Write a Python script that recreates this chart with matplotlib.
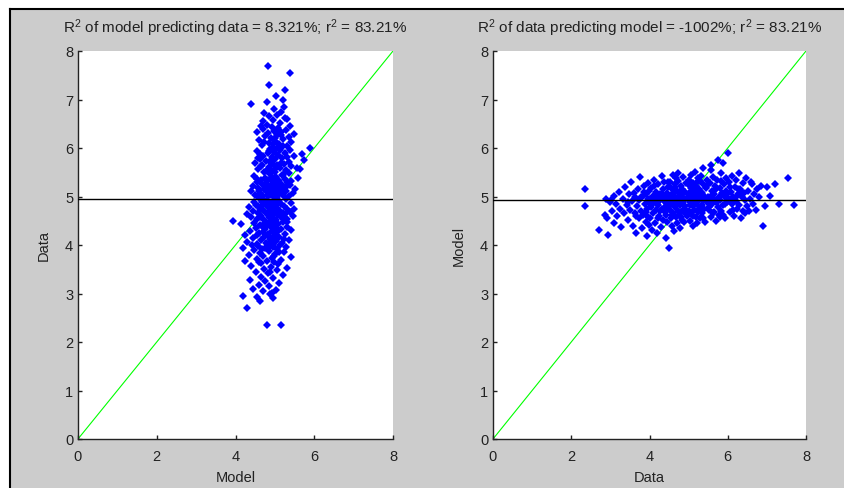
import numpy as np
import matplotlib
matplotlib.use("Agg")
import matplotlib.pyplot as plt
from matplotlib.patches import Rectangle
from matplotlib.lines import Line2D

plt.rcParams['font.family'] = ['Liberation Sans', 'DejaVu Sans']
plt.rcParams['mathtext.fontset'] = 'custom'
plt.rcParams['mathtext.rm'] = 'Liberation Sans'
plt.rcParams['mathtext.it'] = 'Liberation Sans'

# (data, model) pairs
data = [
    2.35, 2.35, 2.70, 2.85, 2.90, 2.95, 2.98, 2.92,
    3.02, 3.05, 3.08, 3.10, 3.15, 3.18, 3.22, 3.25, 3.28, 3.32, 3.35, 3.38, 3.42, 3.45, 3.48,
    3.51, 3.53, 3.55, 3.57, 3.60, 3.62, 3.64, 3.66, 3.68, 3.70, 3.72, 3.74, 3.76, 3.78, 3.80,
    3.82, 3.84, 3.86, 3.88, 3.90, 3.91, 3.93, 3.94, 3.95, 3.96, 3.97, 3.98, 3.99, 3.99, 3.92,
    4.01, 4.02, 4.04, 4.05, 4.07, 4.08, 4.10, 4.11, 4.13, 4.14, 4.16, 4.17, 4.19, 4.20, 4.22,
    4.23, 4.25, 4.26, 4.28, 4.29, 4.31, 4.32, 4.34, 4.35, 4.37, 4.38, 4.40, 4.41, 4.43, 4.44,
    4.45, 4.46, 4.47, 4.48, 4.49, 4.42, 4.36, 4.27, 4.18, 4.09,
    4.50, 4.51, 4.52, 4.53, 4.54, 4.55, 4.56, 4.57, 4.58, 4.59, 4.60, 4.61, 4.62, 4.63, 4.64,
    4.65, 4.66, 4.67, 4.68, 4.69, 4.70, 4.71, 4.72, 4.73, 4.74, 4.75, 4.76, 4.77, 4.78, 4.79,
    4.80, 4.81, 4.82, 4.83, 4.84, 4.85, 4.86, 4.87, 4.88, 4.89, 4.90, 4.92, 4.94, 4.96, 4.98,
    5.00, 5.01, 5.02, 5.03, 5.04, 5.05, 5.06, 5.07, 5.08, 5.09, 5.10, 5.11, 5.12, 5.13, 5.14,
    5.15, 5.16, 5.17, 5.18, 5.19, 5.20, 5.21, 5.22, 5.23, 5.24, 5.25, 5.26, 5.27, 5.28, 5.29,
    5.30, 5.31, 5.32, 5.33, 5.34, 5.35, 5.36, 5.37, 5.38, 5.39, 5.40, 5.42, 5.44, 5.46, 5.48,
    5.50, 5.51, 5.53, 5.54, 5.56, 5.57, 5.59, 5.60, 5.62, 5.63, 5.65, 5.66, 5.68, 5.69, 5.71,
    5.72, 5.74, 5.75, 5.77, 5.78, 5.80, 5.81, 5.83, 5.84, 5.86, 5.87, 5.89, 5.90, 5.92, 5.93,
    5.95, 5.96, 5.98, 5.99, 5.58,
    6.00, 6.02, 6.04, 6.06, 6.08, 6.10, 6.12, 6.14, 6.16, 6.18, 6.20, 6.22, 6.24, 6.26, 6.28,
    6.30, 6.32, 6.34, 6.36, 6.38, 6.40, 6.42, 6.44, 6.46, 6.48,
    6.52, 6.55, 6.58, 6.62, 6.65, 6.68, 6.72, 6.75, 6.80, 6.85, 6.90, 6.95,
    7.00, 7.08, 7.20, 7.30, 7.55, 7.70,
    3.65, 3.85, 4.03, 4.12, 4.21, 4.33, 4.39, 4.47, 4.53, 4.57, 4.63, 4.69, 4.74, 4.81, 4.86,
    4.91, 4.95, 4.99, 5.03, 5.07, 5.11, 5.17, 5.21, 5.26, 5.31, 5.36, 5.41, 5.45, 5.52, 5.58,
    5.64, 5.70, 5.76, 5.82, 5.88, 5.94, 6.05, 6.13, 6.21, 6.33, 6.45, 6.60, 3.45, 3.78, 4.15,
    4.44, 4.66, 4.88, 5.13, 5.34, 5.55, 5.79, 6.09, 6.27,
]
model = [
    5.15, 4.80, 4.30, 4.62, 4.95, 4.20, 4.88, 4.55,
    4.92, 4.70, 5.02, 4.45, 4.85, 4.60, 5.10, 4.75, 4.38, 4.95, 4.65, 5.20, 4.82, 4.52, 5.05,
    4.72, 5.30, 4.90, 4.40, 5.08, 4.65, 4.98, 4.25, 4.80, 5.15, 4.55, 4.92, 5.40, 4.70, 4.35,
    5.00, 4.62, 5.22, 4.85, 4.48, 5.05, 4.75, 4.18, 4.95, 5.28, 4.58, 4.88, 5.12, 4.42, 4.68,
    4.95, 4.55, 5.18, 4.78, 4.30, 5.02, 4.65, 5.35, 4.88, 4.45, 5.10, 4.72, 4.98, 4.25, 5.25,
    4.82, 4.60, 5.05, 4.92, 4.38, 5.42, 4.75, 5.15, 4.52, 4.90, 5.30, 4.68, 4.98, 4.15, 5.08,
    4.85, 4.48, 5.20, 4.78, 4.95, 4.62, 5.00, 4.70, 4.85, 4.90,
    3.93, 5.02, 4.72, 5.30, 4.55, 4.95, 5.18, 4.40, 4.85, 5.45, 4.65, 5.08, 4.90, 4.28, 5.25,
    4.78, 5.00, 4.58, 5.38, 4.88, 4.45, 5.12, 4.70, 4.98, 5.32, 4.62, 4.92, 5.05, 4.35, 4.82,
    5.22, 4.68, 5.00, 4.52, 5.15, 4.88, 5.40, 4.75, 4.95, 4.48, 5.10, 4.80, 5.28, 4.60, 4.98,
    5.05, 4.70, 5.35, 4.88, 4.50, 5.18, 4.95, 5.45, 4.62, 5.02, 4.80, 5.28, 4.40, 4.92, 5.12,
    4.72, 5.50, 4.98, 4.58, 5.22, 4.85, 5.05, 4.45, 5.38, 4.90, 4.68, 5.15, 5.00, 4.78, 5.32,
    4.55, 4.95, 5.42, 4.82, 5.08, 4.65, 5.25, 4.92, 5.58, 4.75, 5.02, 4.48, 5.18, 4.88, 5.35,
    5.00, 4.72, 5.28, 4.90, 5.65, 4.58, 5.12, 4.85, 5.40, 4.65, 5.05, 4.95, 5.22, 4.50, 4.88,
    5.35, 4.78, 5.75, 5.00, 4.62, 5.18, 4.92, 5.48, 4.70, 5.08, 5.70, 4.82, 5.25, 4.98, 4.55,
    5.12, 5.38, 4.88, 5.05, 5.55,
    5.90, 4.95, 5.30, 4.68, 5.10, 4.85, 5.42, 5.00, 4.60, 5.20, 4.90, 5.35, 4.75, 5.05, 5.48,
    4.82, 5.15, 4.55, 4.98, 5.28, 4.70, 5.08, 4.92, 5.38, 4.80,
    5.12, 4.70, 4.95, 5.25, 4.85, 5.05, 4.72, 5.15, 4.98, 5.22, 4.40, 4.80,
    5.20, 5.02, 5.25, 4.85, 5.38, 4.82,
    4.60, 5.10, 4.82, 5.22, 4.55, 5.05, 4.78, 5.30, 4.92, 4.62, 5.15, 4.85, 5.48, 4.58, 5.08,
    4.95, 4.70, 5.25, 4.82, 5.12, 4.60, 5.02, 5.30, 4.75, 5.10, 4.55, 4.92, 5.20, 4.78, 5.02,
    4.68, 5.15, 4.90, 5.32, 4.62, 4.85, 5.20, 4.72, 5.00, 5.12, 4.65, 5.30, 4.88, 4.98, 5.00,
    4.72, 5.20, 4.68, 5.05, 4.98, 5.28, 4.58, 4.95, 5.15,
]

titles = [r'R$^2$ of model predicting data = 8.321%; r$^2$ = 83.21%',
          r'R$^2$ of data predicting model = -1002%; r$^2$ = 83.21%']
xlabels = ['Model', 'Data']
ylabels = ['Data', 'Model']
ticks = [0, 2, 4, 6, 8]
yticks = [0, 1, 2, 3, 4, 5, 6, 7, 8]

W, H = 844, 489
fig = plt.figure(figsize=(W / 100, H / 100), dpi=100)
fig.patch.set_facecolor('white')
gray = '#cccccc'
fig.add_artist(Rectangle((10 / W, 0), 1 - 10 / W, 1 - 10 / H, transform=fig.transFigure,
                         facecolor=gray, edgecolor='none', zorder=-10))
fig.add_artist(Line2D([10 / W, 10 / W], [0, 1 - 10 / H], transform=fig.transFigure,
                      color='black', lw=1.5))
fig.add_artist(Line2D([10 / W, 1], [1 - 10 / H, 1 - 10 / H], transform=fig.transFigure,
                      color='black', lw=1.5))

pos = [(78, 52, 393, 440), (493, 52, 806, 440)]
xs = [model, data]
ys = [data, model]
for i in range(2):
    x0, y0, x1, y1 = pos[i]
    ax = fig.add_axes([x0 / W, 1 - y1 / H, (x1 - x0) / W, (y1 - y0) / H])
    ax.set_facecolor('white')
    ax.plot([0, 8], [0, 8], color='#00ff00', lw=0.8, zorder=1)
    ax.axhline(np.mean(ys[i]), color='black', lw=1.0, zorder=3)
    ax.plot(xs[i], ys[i], linestyle='none', marker='D', ms=4.0, color='#0000ff',
            markeredgewidth=0, zorder=2)
    ax.set_xlim(0, 8)
    ax.set_ylim(0, 8)
    ax.set_xticks(ticks)
    ax.set_yticks(yticks)
    for s in ['top', 'right']:
        ax.spines[s].set_visible(False)
    for s in ['left', 'bottom']:
        ax.spines[s].set_color('#222222')
        ax.spines[s].set_linewidth(1.0)
    ax.tick_params(axis='x', pad=7)
    ax.tick_params(direction='in', length=3, width=1, labelsize=10.5, colors='#222222')
    ax.set_title(titles[i], fontsize=11, pad=14, color='#222222')
    ax.set_xlabel(xlabels[i], fontsize=10.5, labelpad=5, color='#222222')
    ax.set_ylabel(ylabels[i], fontsize=10.5, labelpad=10, color='#222222')

fig.savefig('out.png', dpi=100, facecolor=fig.get_facecolor())
